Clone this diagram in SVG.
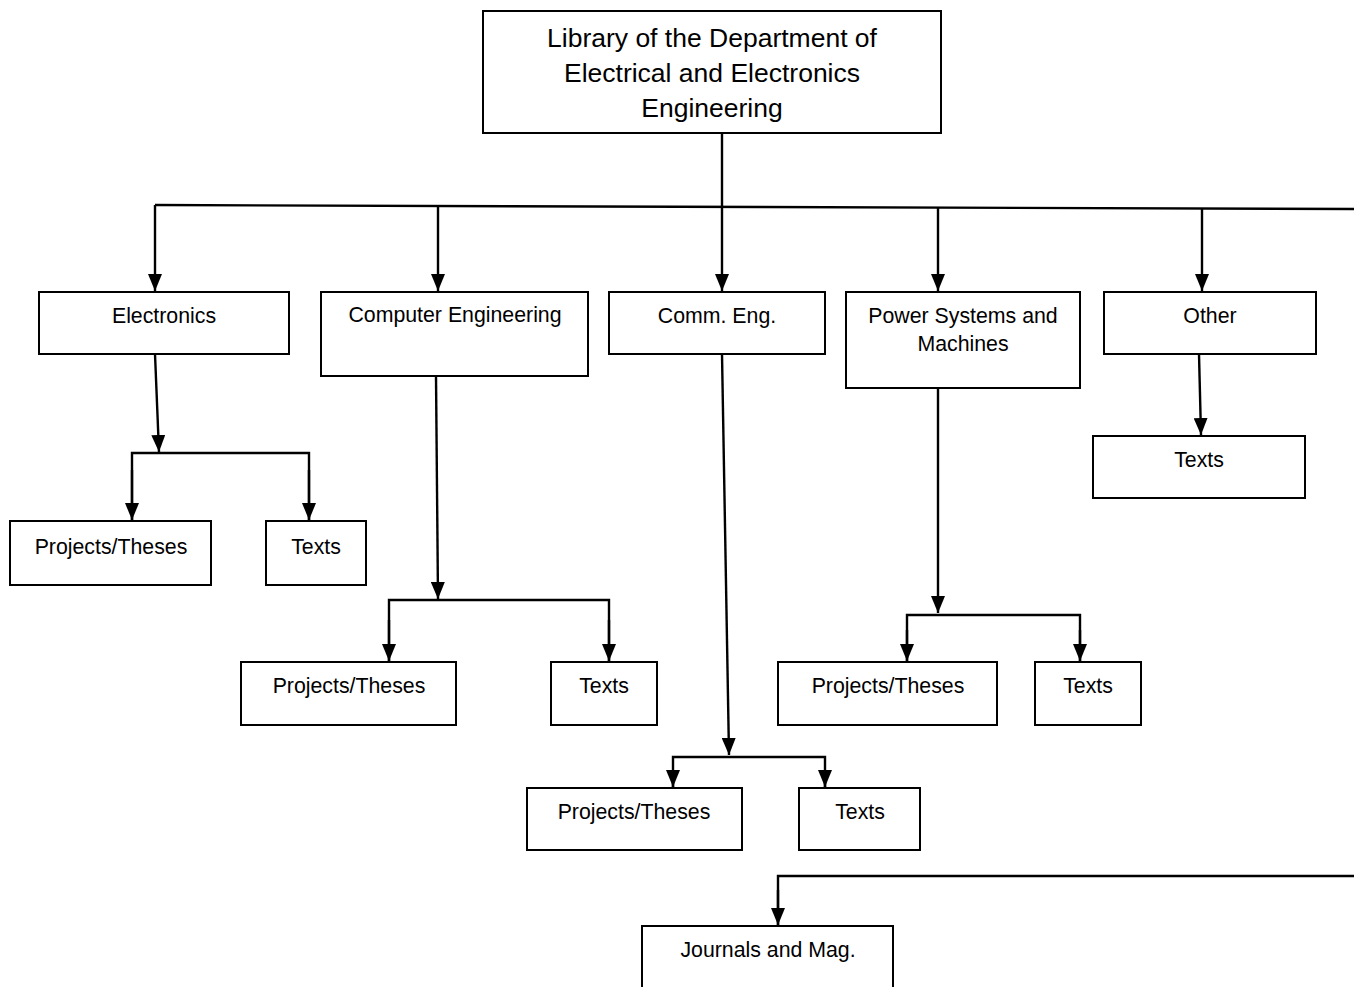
<svg xmlns="http://www.w3.org/2000/svg" width="1354" height="987" viewBox="0 0 1354 987">
<style>
.box{fill:#fff;stroke:#000;stroke-width:2}
.t{font-family:"Liberation Sans",Arial,sans-serif;font-size:21.3px;fill:#000;text-anchor:middle}
.tt{font-family:"Liberation Sans",Arial,sans-serif;font-size:26.5px;fill:#000;text-anchor:middle}
.c{fill:none;stroke:#000;stroke-width:2.4}
</style>
<defs>
<marker id="ah" markerUnits="userSpaceOnUse" viewBox="0 -7 17 14" refX="17" refY="0" markerWidth="17" markerHeight="14" orient="auto">
<path d="M0,-7 L17,0 L0,7 z" fill="#000"/>
</marker>
</defs>
<rect width="1354" height="987" fill="#fff"/>
<g id="connectors">
<path class="c" d="M722,133 V207"/>
<path class="c" d="M155,205 L1354,209"/>
<path class="c" d="M155,205 V291" marker-end="url(#ah)"/>
<path class="c" d="M438,206 V291" marker-end="url(#ah)"/>
<path class="c" d="M722,207 V291" marker-end="url(#ah)"/>
<path class="c" d="M938,207 V291" marker-end="url(#ah)"/>
<path class="c" d="M1202,208 V291" marker-end="url(#ah)"/>
<path class="c" d="M1199,354 L1201,435" marker-end="url(#ah)"/>
<path class="c" d="M155,354 L159,452" marker-end="url(#ah)"/>
<path class="c" d="M132,520 V453 H309 V520"/>
<path class="c" d="M132,470 V520" marker-end="url(#ah)"/>
<path class="c" d="M309,470 V520" marker-end="url(#ah)"/>
<path class="c" d="M436,376 L438,599" marker-end="url(#ah)"/>
<path class="c" d="M389,661 V600 H609 V661"/>
<path class="c" d="M389,620 V661" marker-end="url(#ah)"/>
<path class="c" d="M609,620 V661" marker-end="url(#ah)"/>
<path class="c" d="M722,354 L729,755" marker-end="url(#ah)"/>
<path class="c" d="M673,787 V757 H825 V787"/>
<path class="c" d="M673,770 V787" marker-end="url(#ah)"/>
<path class="c" d="M825,770 V787" marker-end="url(#ah)"/>
<path class="c" d="M938,388 V613" marker-end="url(#ah)"/>
<path class="c" d="M907,661 V615 H1080 V661"/>
<path class="c" d="M907,630 V661" marker-end="url(#ah)"/>
<path class="c" d="M1080,630 V661" marker-end="url(#ah)"/>
<path class="c" d="M1354,876 H778 V925"/>
<path class="c" d="M778,890 V925" marker-end="url(#ah)"/>
</g>
<g id="root">
<rect class="box" x="483" y="11" width="458" height="122"/>
<text class="tt" x="712" y="47">Library of the Department of</text>
<text class="tt" x="712" y="82">Electrical and Electronics</text>
<text class="tt" x="712" y="117">Engineering</text>
</g>
<g id="electronics">
<rect class="box" x="39" y="292" width="250" height="62"/>
<text class="t" x="164" y="323">Electronics</text>
</g>
<g id="computer">
<rect class="box" x="321" y="292" width="267" height="84"/>
<text class="t" x="455" y="322">Computer Engineering</text>
</g>
<g id="comm">
<rect class="box" x="609" y="292" width="216" height="62"/>
<text class="t" x="717" y="323">Comm. Eng.</text>
</g>
<g id="power">
<rect class="box" x="846" y="292" width="234" height="96"/>
<text class="t" x="963" y="323">Power Systems and</text>
<text class="t" x="963" y="351">Machines</text>
</g>
<g id="other">
<rect class="box" x="1104" y="292" width="212" height="62"/>
<text class="t" x="1210" y="323">Other</text>
</g>
<g id="other-texts">
<rect class="box" x="1093" y="436" width="212" height="62"/>
<text class="t" x="1199" y="467">Texts</text>
</g>
<g id="el-projects">
<rect class="box" x="10" y="521" width="201" height="64"/>
<text class="t" x="111" y="554">Projects/Theses</text>
</g>
<g id="el-texts">
<rect class="box" x="266" y="521" width="100" height="64"/>
<text class="t" x="316" y="554">Texts</text>
</g>
<g id="ce-projects">
<rect class="box" x="241" y="662" width="215" height="63"/>
<text class="t" x="349" y="693">Projects/Theses</text>
</g>
<g id="ce-texts">
<rect class="box" x="551" y="662" width="106" height="63"/>
<text class="t" x="604" y="693">Texts</text>
</g>
<g id="pw-projects">
<rect class="box" x="778" y="662" width="219" height="63"/>
<text class="t" x="888" y="693">Projects/Theses</text>
</g>
<g id="pw-texts">
<rect class="box" x="1035" y="662" width="106" height="63"/>
<text class="t" x="1088" y="693">Texts</text>
</g>
<g id="cm-projects">
<rect class="box" x="527" y="788" width="215" height="62"/>
<text class="t" x="634" y="819">Projects/Theses</text>
</g>
<g id="cm-texts">
<rect class="box" x="799" y="788" width="121" height="62"/>
<text class="t" x="860" y="819">Texts</text>
</g>
<g id="journals">
<rect class="box" x="642" y="926" width="251" height="70"/>
<text class="t" x="768" y="957">Journals and Mag.</text>
</g>
</svg>
